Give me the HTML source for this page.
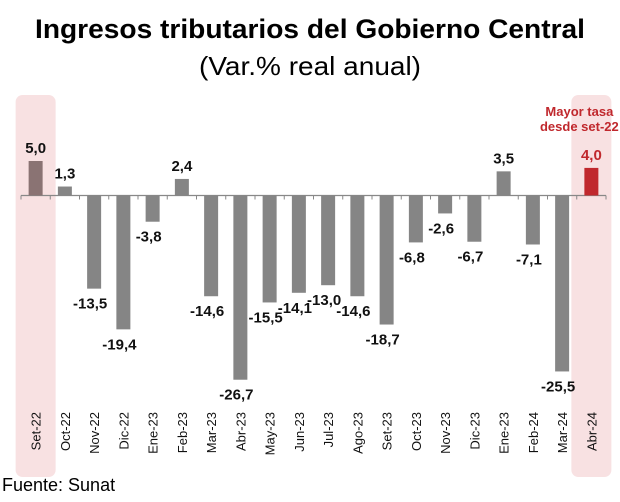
<!DOCTYPE html>
<html><head><meta charset="utf-8">
<style>
body{margin:0;background:#fff;width:620px;height:497px;overflow:hidden;font-family:"Liberation Sans",sans-serif}
</style></head>
<body>
<svg id="c" width="620" height="497">
<text x="310" y="38" text-anchor="middle" font-size="27" font-weight="bold" font-family="Liberation Sans, sans-serif" textLength="550" lengthAdjust="spacingAndGlyphs">Ingresos tributarios del Gobierno Central</text>
<text x="310" y="75" text-anchor="middle" font-size="26" font-family="Liberation Sans, sans-serif" textLength="222" lengthAdjust="spacingAndGlyphs">(Var.% real anual)</text>
<text x="2" y="491" font-size="18" font-family="Liberation Sans, sans-serif">Fuente: Sunat</text>
<g id="g"></g>
</svg>
<script>
const categories=["Set-22","Oct-22","Nov-22","Dic-22","Ene-23","Feb-23","Mar-23","Abr-23","May-23","Jun-23","Jul-23","Ago-23","Set-23","Oct-23","Nov-23","Dic-23","Ene-23","Feb-24","Mar-24","Abr-24"];
const values=[5.0,1.3,-13.5,-19.4,-3.8,2.4,-14.6,-26.7,-15.5,-14.1,-13.0,-14.6,-18.7,-6.8,-2.6,-6.7,3.5,-7.1,-25.5,4.0];
const valueLabels=["5,0","1,3","-13,5","-19,4","-3,8","2,4","-14,6","-26,7","-15,5","-14,1","-13,0","-14,6","-18,7","-6,8","-2,6","-6,7","3,5","-7,1","-25,5","4,0"];
const ns="http://www.w3.org/2000/svg";
const g=document.getElementById('g');
const x0=21,step=29.25,y0=195.5,k=6.9,bw=14;
const xc=i=>x0+step*(i+0.5);
const ys=v=>y0-v*k;
function el(t,a){const e=document.createElementNS(ns,t);for(const q in a)e.setAttribute(q,a[q]);g.appendChild(e);return e;}
[0,19].forEach(i=>{
 const r=el('rect',{x:xc(i)-20,y:95,width:40,height:382,rx:7,fill:'#f8e1e2'});
 
 
});
const ann=el('text',{x:xc(19)-12,y:116,'text-anchor':'middle','font-size':13,'font-weight':'bold',fill:'#c0282d'});


ann.innerHTML='<tspan x="'+(xc(19)-12)+'" dy="0">Mayor tasa</tspan><tspan x="'+(xc(19)-12)+'" dy="15">desde set-22</tspan>';
const ax=el('line',{x1:x0,x2:x0+step*20,y1:y0,y2:y0,stroke:'#888','stroke-width':1.2});


for(let i=0;i<=20;i++){const t=el('line',{x1:x0+step*i,x2:x0+step*i,y1:y0,y2:y0+4,stroke:'#888'});
 
 }
values.forEach((v,i)=>{
 const col=i==0?'#8a7373':(i==19?'#c0282d':'#858585');
 const y=Math.min(ys(v),y0),h=Math.abs(v)*k;
 const b=el('rect',{x:xc(i)-bw/2,y:y,width:bw,height:h,fill:col});
 
 
 const ly=v>=0?ys(v)-8:ys(v)+20;
 const lx=v>=0?xc(i):xc(i)-4;
 const l=el('text',{x:lx,y:ly,'text-anchor':'middle','font-size':15,'font-weight':'bold',fill:i==19?'#c0282d':'#111'});
 l.textContent=valueLabels[i];
 
 
 const c=el('text',{x:0,y:0,'text-anchor':'end','font-size':13,fill:'#111',transform:'translate('+(xc(i)+5)+',412) rotate(-90)'});
 c.textContent=categories[i];
 
 
});
</script>
</body></html>
